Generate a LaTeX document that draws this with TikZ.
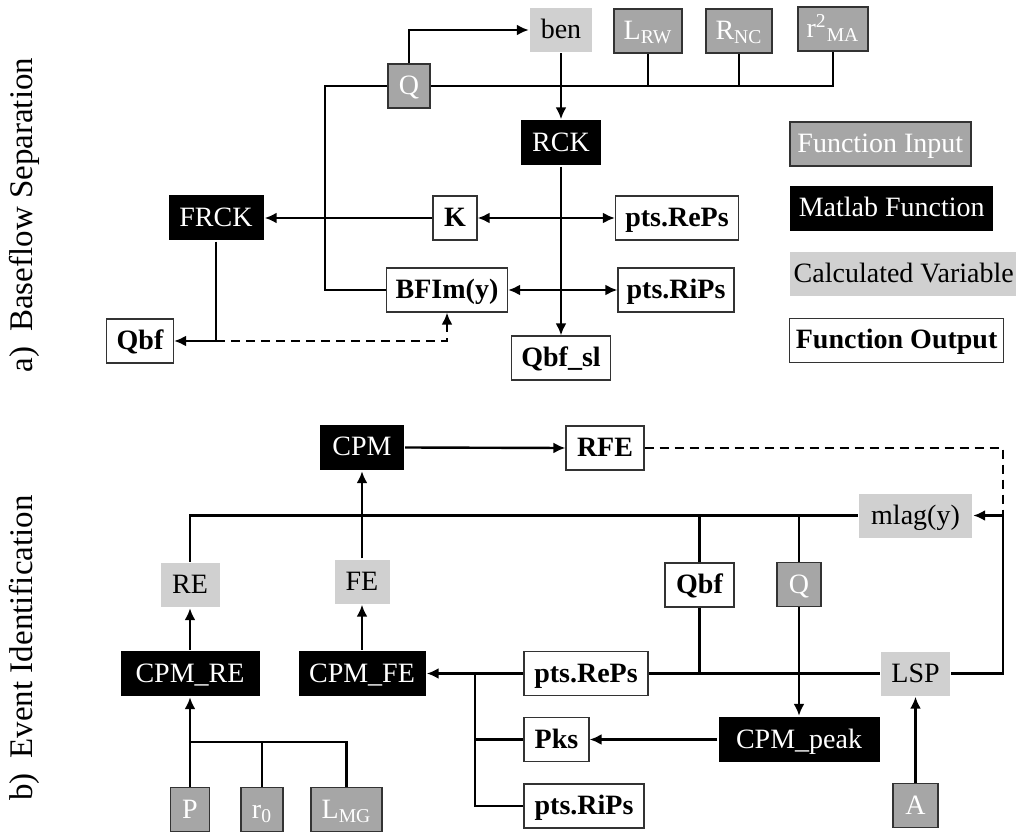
\documentclass[tikz,border=0pt]{standalone}
\usepackage{fontspec}
\setmainfont{Liberation Serif}
\usepackage{tikz}
\usetikzlibrary{arrows.meta}

\definecolor{inpgray}{RGB}{166,166,166}
\definecolor{calcgray}{RGB}{208,208,208}

\tikzset{
	box/.style={minimum height=22pt, inner sep=0pt, text height=10.5pt, text depth=2pt, font=\fontsize{14}{16}\selectfont},
	inp/.style={box, draw=black!80, line width=0.8pt, fill=inpgray, text=white},
	fun/.style={box, fill=black, text=white, minimum height=22.5pt},
	calc/.style={box, fill=calcgray, text=black},
	outp/.style={box, draw=black!80, line width=0.6pt, fill=white, font=\fontsize{14}{16}\selectfont\bfseries},
	dsh/.style={dash pattern=on 4.5pt off 3pt},
}

\begin{document}
\begin{tikzpicture}[x=0.5pt,y=-0.5pt,line width=1.2pt,>={Latex[length=6pt,width=5.5pt]}]
	\useasboundingbox (0,0) rectangle (1016,833);
	
	\node[rotate=90,font=\fontsize{16.5}{19}\selectfont] (lbla) at (24,215) {a)\hspace{0.45em}Baseflow Separation};
	\node[rotate=90,font=\fontsize{16.5}{19}\selectfont] (lblb) at (24,648) {b)\hspace{0.45em}Event Identification};
	
	%baseflow separation
	\node[inp,minimum width=21pt] (q1) at (409,86) {Q};
	\node[calc,minimum width=31pt] (ben) at (561,30) {ben};
	\node[inp,minimum width=34pt] (lrw) at (648,31) {L\textsubscript{RW}};
	\node[inp,minimum width=33pt] (rnc) at (739,31) {R\textsubscript{NC}};
	\node[inp,minimum width=35pt] (rma) at (833,29) {r\textsuperscript{2}\textsubscript{MA}};
	\node[fun,minimum width=40pt] (rck) at (561,143) {RCK};
	\node[fun,minimum width=47.5pt] (frck) at (216,218) {FRCK};
	\node[outp,minimum width=22pt] (k) at (455,218) {K};
	\node[outp,minimum width=61.5pt] (reps1) at (677,218) {pts.RePs};
	\node[outp,minimum width=60.5pt] (bfi) at (447,290) {BFIm(y)};
	\node[outp,minimum width=58pt] (rips1) at (676,290) {pts.RiPs};
	\node[outp,minimum width=33.5pt] (qbf1) at (140,341) {Qbf};
	\node[outp,minimum width=49.5pt] (qbfsl) at (561,358) {Qbf\_sl};
	
	\draw[->] (q1.north) |- (ben.west);
	\draw (q1.east) -| (rma.south);
	\foreach \n in {lrw,rnc}
		\draw (\n.south) -- (\n.south |- q1.east);
	\draw (q1.west) -- ++(-62,0) |- (bfi.west);
	\draw[->] (ben.south) -- (rck.north);
	\draw[->] (rck.south) -- (qbfsl.north);
	\draw[<->] (k.east) -- (reps1.west);
	\draw[->] (k.west) -- (frck.east);
	\draw[<->] (bfi.east) -- (rips1.west);
	\draw[->] (frck.south) |- (qbf1.east);
	\draw[dsh,->] (frck.south |- qbf1.east) -| (bfi.south);
	
	%legend
	\node[inp,anchor=west,minimum width=90.5pt] (lgi) at (789,144) {Function Input};
	\node[fun,anchor=west,minimum width=101.5pt] (lgf) at (789,208.5) {Matlab Function};
	\node[calc,anchor=west,minimum width=113.5pt] (lgc) at (789,274) {Calculated Variable};
	\node[outp,anchor=west,minimum width=107pt] (lgo) at (789,340.5) {Function Output};
	
	%event identification
	\node[fun,minimum width=42pt] (cpm) at (362,447.5) {CPM};
	\node[outp,minimum width=39pt] (rfe) at (605,448) {RFE};
	\node[calc,minimum width=56.5pt] (mlag) at (915.5,515.5) {mlag(y)};
	\node[calc,minimum width=29.5pt] (re) at (190,585) {RE};
	\node[calc,minimum width=27.5pt] (fe) at (362,581.5) {FE};
	\node[outp,minimum width=34.5pt] (qbf2) at (699.5,585) {Qbf};
	\node[inp,minimum width=22pt] (q2) at (799,584.5) {Q};
	\node[fun,minimum width=69.5pt] (cpmre) at (190,673.5) {CPM\_RE};
	\node[fun,minimum width=63.5pt] (cpmfe) at (362,673.5) {CPM\_FE};
	\node[outp,minimum width=62pt] (reps2) at (586,673.5) {pts.RePs};
	\node[calc,minimum width=34.5pt] (lsp) at (915.5,673.5) {LSP};
	\node[outp,minimum width=32.5pt] (pks) at (556.5,739.5) {Pks};
	\node[fun,minimum width=80.5pt] (cpmpeak) at (799,739.5) {CPM\_peak};
	\node[outp,minimum width=60pt] (rips2) at (584,806) {pts.RiPs};
	\node[inp,minimum width=19.5pt] (p) at (190,809.5) {P};
	\node[inp,minimum width=21pt] (r0) at (262,809.5) {r\textsubscript{0}};
	\node[inp,minimum width=35.5pt] (lmg) at (346.5,809.5) {L\textsubscript{MG}};
	\node[inp,minimum width=22.5pt] (a) at (915.5,805.5) {A};
	
	\coordinate (rt) at (1003,515.5);
	\coordinate (j1) at (190,742);
	\coordinate (j2) at (475,673.5);
	
	\draw[->] (cpm.east) -- (rfe.west);
	\draw[dsh] (rfe.east) -| (rt);
	\draw[->] (rt) -- (mlag.east);
	\draw (lsp.east) -| (rt);
	\draw (mlag.west) -| (re.north);
	\foreach \n in {qbf2,q2}
		\draw (\n.north) -- (\n.north |- mlag.west);
	\draw[->] (fe.north) -- (cpm.south);
	\draw[->] (cpmre.north) -- (re.south);
	\draw[->] (cpmfe.north) -- (fe.south);
	\draw[->] (p.north) -- (cpmre.south);
	\draw (r0.north) -- (r0.north |- j1);
	\draw (lmg.north) |- (j1);
	\draw[->] (reps2.west) -- (cpmfe.east);
	\draw (lsp.west) -- (reps2.east);
	\draw (qbf2.south) -- (qbf2.south |- reps2.east);
	\draw[->] (q2.south) -- (cpmpeak.north);
	\draw[->] (cpmpeak.west) -- (pks.east);
	\draw (j2) |- (pks.west);
	\draw (j2) |- (rips2.west);
	\draw[->] (a.north) -- (lsp.south);
\end{tikzpicture}
\end{document}
